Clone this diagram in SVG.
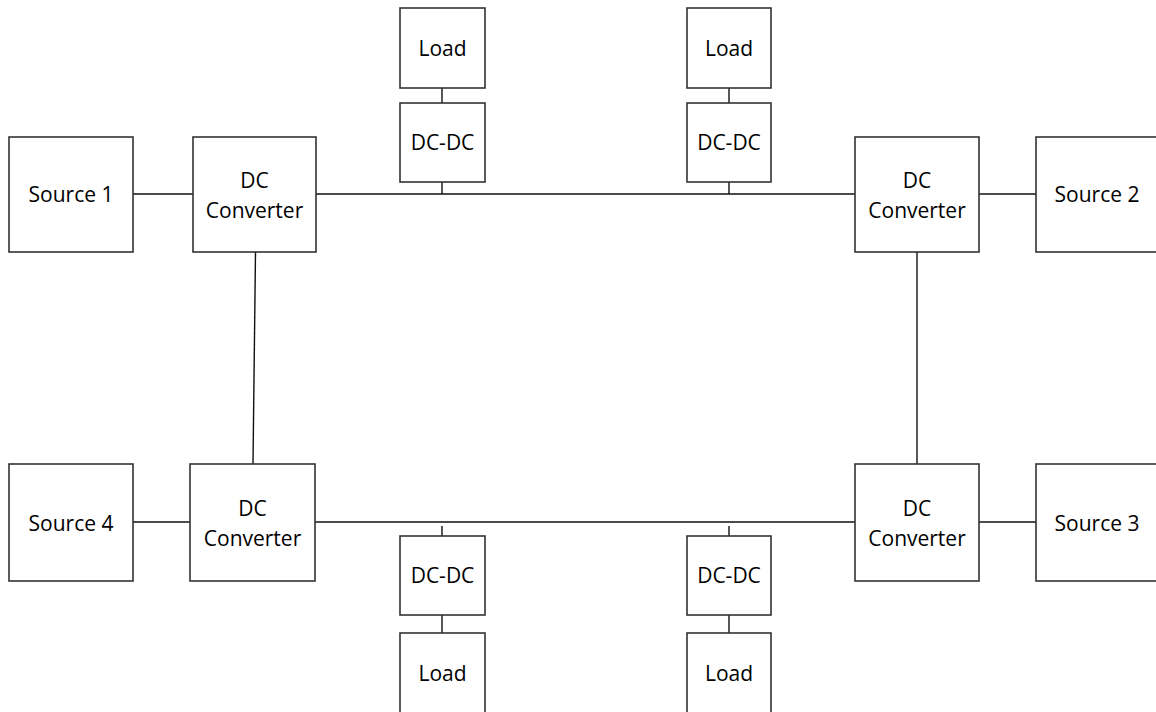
<svg xmlns="http://www.w3.org/2000/svg" width="1156" height="712" viewBox="0 0 1156 712">
<style>
.box{fill:#fff;stroke:#333;stroke-width:1.6}
.t{font-family:"Open Sans","Liberation Sans",sans-serif;font-size:21px;fill:#000;text-anchor:middle}
.c line{stroke:#111;stroke-width:1.4}
</style>
<rect width="1156" height="712" fill="#fff"/>
<g class="c" id="connectors">
<line x1="133" y1="194" x2="193" y2="194"/>
<line x1="316" y1="194" x2="855" y2="194"/>
<line x1="442" y1="182" x2="442" y2="194"/>
<line x1="729" y1="182" x2="729" y2="194"/>
<line x1="442" y1="88" x2="442" y2="103"/>
<line x1="729" y1="88" x2="729" y2="103"/>
<line x1="979" y1="194" x2="1036" y2="194"/>
<line x1="255.5" y1="252" x2="253" y2="464"/>
<line x1="917" y1="252" x2="917" y2="464"/>
<line x1="133" y1="522" x2="190" y2="522"/>
<line x1="315" y1="522" x2="855" y2="522"/>
<line x1="442" y1="526" x2="442" y2="536"/>
<line x1="729" y1="526" x2="729" y2="536"/>
<line x1="442" y1="615" x2="442" y2="633"/>
<line x1="729" y1="615" x2="729" y2="633"/>
<line x1="979" y1="522" x2="1036" y2="522"/>
</g>
<g id="source1"><rect class="box" x="9" y="137" width="124" height="115"/><text class="t" x="71" y="202">Source 1</text></g>
<g id="conv1"><rect class="box" x="193" y="137" width="123" height="115"/><text class="t" x="254.5" y="188">DC</text><text class="t" x="254.5" y="218">Converter</text></g>
<g id="load1"><rect class="box" x="400" y="8" width="85" height="80"/><text class="t" x="442.5" y="56">Load</text></g>
<g id="dcdc1"><rect class="box" x="400" y="103" width="85" height="79"/><text class="t" x="442.5" y="150">DC-DC</text></g>
<g id="load2"><rect class="box" x="687" y="8" width="84" height="80"/><text class="t" x="729" y="56">Load</text></g>
<g id="dcdc2"><rect class="box" x="687" y="103" width="84" height="79"/><text class="t" x="729" y="150">DC-DC</text></g>
<g id="conv2"><rect class="box" x="855" y="137" width="124" height="115"/><text class="t" x="917" y="188">DC</text><text class="t" x="917" y="218">Converter</text></g>
<g id="source2"><rect class="box" x="1036" y="137" width="124" height="115"/><text class="t" x="1097" y="202">Source 2</text></g>
<g id="source4"><rect class="box" x="9" y="464" width="124" height="117"/><text class="t" x="71" y="531">Source 4</text></g>
<g id="conv4"><rect class="box" x="190" y="464" width="125" height="117"/><text class="t" x="252.5" y="516">DC</text><text class="t" x="252.5" y="546">Converter</text></g>
<g id="dcdc4"><rect class="box" x="400" y="536" width="85" height="79"/><text class="t" x="442.5" y="583">DC-DC</text></g>
<g id="load4"><rect class="box" x="400" y="633" width="85" height="90"/><text class="t" x="442.5" y="681">Load</text></g>
<g id="dcdc3"><rect class="box" x="687" y="536" width="84" height="79"/><text class="t" x="729" y="583">DC-DC</text></g>
<g id="load3"><rect class="box" x="687" y="633" width="84" height="90"/><text class="t" x="729" y="681">Load</text></g>
<g id="conv3"><rect class="box" x="855" y="464" width="124" height="117"/><text class="t" x="917" y="516">DC</text><text class="t" x="917" y="546">Converter</text></g>
<g id="source3"><rect class="box" x="1036" y="464" width="124" height="117"/><text class="t" x="1097" y="531">Source 3</text></g>
</svg>
